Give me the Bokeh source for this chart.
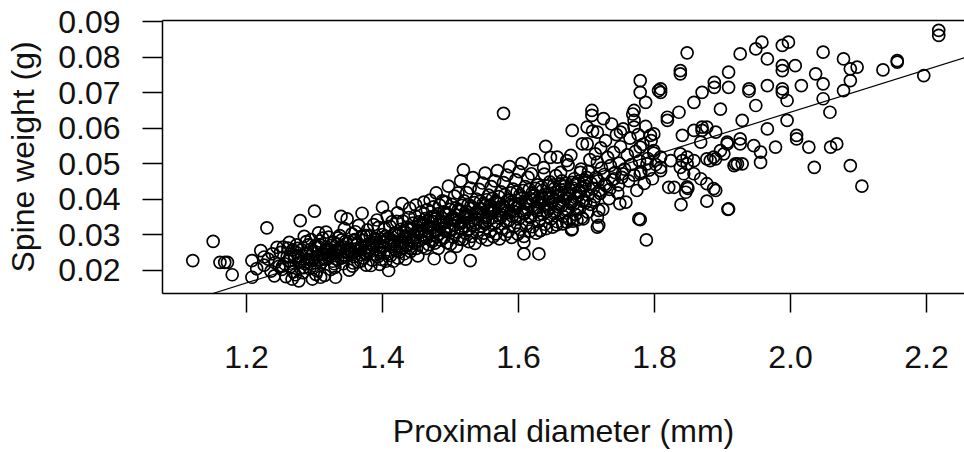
from bokeh.plotting import figure
from bokeh.models import (ColumnDataSource, Range1d, LinearAxis, FixedTicker,
                          NumeralTickFormatter, Slope)
from bokeh.embed import file_html
from bokeh.resources import INLINE

# ---------------- data ----------------
x_ticks = [1.2, 1.4, 1.6, 1.8, 2.0, 2.2]
y_ticks = [0.02, 0.03, 0.04, 0.05, 0.06, 0.07, 0.08, 0.09]

left_diameter = [1.121, 1.151, 1.161, 1.168, 1.172, 1.179, 1.208, 1.208, 1.221, 1.230,
                 1.215, 1.226, 1.232, 1.236, 1.238, 1.242, 1.245, 1.248, 1.226, 1.241]
left_weight = [0.0228, 0.0282, 0.0223, 0.0223, 0.0223, 0.0188, 0.0228, 0.0181, 0.0256, 0.0320,
               0.0205, 0.0215, 0.0232, 0.0198, 0.0247, 0.0222, 0.0265, 0.0212, 0.0238, 0.0185]

core_diameter = [
    1.250, 1.252, 1.254, 1.256, 1.258, 1.260,
    1.262, 1.263, 1.265, 1.267, 1.268, 1.270,
    1.271, 1.272, 1.274, 1.275, 1.277, 1.279,
    1.280, 1.281, 1.283, 1.285, 1.286, 1.288,
    1.289, 1.290, 1.292, 1.293, 1.295, 1.297,
    1.298, 1.300, 1.301, 1.303, 1.304, 1.306,
    1.307, 1.309, 1.310, 1.312, 1.313, 1.315,
    1.316, 1.318, 1.319, 1.321, 1.322, 1.324,
    1.325, 1.327, 1.328, 1.330, 1.331, 1.333,
    1.334, 1.336, 1.337, 1.339, 1.340, 1.342,
    1.343, 1.345, 1.346, 1.348, 1.349, 1.351,
    1.352, 1.354, 1.355, 1.357, 1.358, 1.360,
    1.361, 1.363, 1.364, 1.366, 1.367, 1.369,
    1.370, 1.372, 1.373, 1.375, 1.376, 1.378,
    1.379, 1.381, 1.382, 1.384, 1.385, 1.387,
    1.388, 1.390, 1.391, 1.393, 1.394, 1.396,
    1.397, 1.399, 1.400, 1.402, 1.403, 1.405,
    1.406, 1.408, 1.409, 1.411, 1.412, 1.414,
    1.415, 1.417, 1.418, 1.420, 1.421, 1.423,
    1.424, 1.426, 1.427, 1.429, 1.430, 1.432,
    1.433, 1.435, 1.436, 1.438, 1.439, 1.441,
    1.442, 1.444, 1.445, 1.447, 1.448, 1.450,
    1.451, 1.453, 1.454, 1.456, 1.457, 1.459,
    1.460, 1.462, 1.463, 1.465, 1.466, 1.468,
    1.469, 1.471, 1.472, 1.474, 1.475, 1.477,
    1.478, 1.480, 1.481, 1.483, 1.484, 1.486,
    1.487, 1.489, 1.490, 1.492, 1.493, 1.495,
    1.496, 1.498, 1.499, 1.501, 1.502, 1.504,
    1.505, 1.507, 1.508, 1.510, 1.511, 1.513,
    1.514, 1.516, 1.517, 1.519, 1.520, 1.522,
    1.523, 1.525, 1.526, 1.528, 1.529, 1.531,
    1.532, 1.534, 1.535, 1.537, 1.538, 1.540,
    1.541, 1.543, 1.544, 1.546, 1.547, 1.549,
    1.550, 1.552, 1.553, 1.555, 1.556, 1.558,
    1.559, 1.561, 1.562, 1.564, 1.565, 1.567,
    1.568, 1.570, 1.571, 1.573, 1.574, 1.576,
    1.577, 1.579, 1.580, 1.582, 1.583, 1.585,
    1.586, 1.588, 1.589, 1.591, 1.592, 1.594,
    1.595, 1.597, 1.598, 1.600, 1.601, 1.603,
    1.604, 1.606, 1.607, 1.609, 1.610, 1.612,
    1.613, 1.615, 1.616, 1.618, 1.619, 1.621,
    1.622, 1.624, 1.625, 1.627, 1.628, 1.630,
    1.631, 1.633, 1.634, 1.636, 1.637, 1.639,
    1.640, 1.642, 1.643, 1.645, 1.646, 1.648,
    1.649, 1.651, 1.652, 1.654, 1.655, 1.657,
    1.658, 1.660, 1.661, 1.663, 1.664, 1.666,
    1.667, 1.669, 1.670, 1.672, 1.673, 1.675,
    1.676, 1.678, 1.679, 1.681, 1.682, 1.684,
    1.685, 1.687, 1.688, 1.690, 1.691, 1.693,
    1.694, 1.696, 1.697, 1.699, 1.700, 1.702,
]
core_weight = [
    0.0251, 0.0203, 0.0266, 0.0219, 0.0183, 0.0239,
    0.0227, 0.0279, 0.0211, 0.0176, 0.0258, 0.0244,
    0.0236, 0.0188, 0.0272, 0.0262, 0.0171, 0.0207,
    0.0233, 0.0258, 0.0194, 0.0296, 0.0219, 0.0281,
    0.0224, 0.0249, 0.0231, 0.0205, 0.0287, 0.0176,
    0.0252, 0.0214, 0.0269, 0.0238, 0.0199, 0.0306,
    0.0229, 0.0271, 0.0222, 0.0291, 0.0245, 0.0186,
    0.0235, 0.0266, 0.0252, 0.0294, 0.0259, 0.0203,
    0.0248, 0.0226, 0.0279, 0.0209, 0.0257, 0.0275,
    0.0231, 0.0254, 0.0298, 0.0235, 0.0286, 0.0219,
    0.0266, 0.0238, 0.0283, 0.0253, 0.0262, 0.0201,
    0.0257, 0.0249, 0.0303, 0.0221, 0.0284, 0.0309,
    0.0261, 0.0277, 0.0224, 0.0259, 0.0245, 0.0296,
    0.0268, 0.0235, 0.0299, 0.0249, 0.0215, 0.0314,
    0.0255, 0.0252, 0.0297, 0.0276, 0.0229, 0.0329,
    0.0279, 0.0244, 0.0287, 0.0238, 0.0321, 0.0217,
    0.0281, 0.0269, 0.0301, 0.0249, 0.0319, 0.0226,
    0.0283, 0.0291, 0.0247, 0.0324, 0.0242, 0.0337,
    0.0282, 0.0272, 0.0305, 0.0256, 0.0338, 0.0235,
    0.0302, 0.0268, 0.0316, 0.0263, 0.0339, 0.0247,
    0.0297, 0.0289, 0.0322, 0.0271, 0.0349, 0.0253,
    0.0319, 0.0282, 0.0333, 0.0277, 0.0354, 0.0262,
    0.0311, 0.0305, 0.0337, 0.0285, 0.0364, 0.0266,
    0.0332, 0.0298, 0.0346, 0.0291, 0.0371, 0.0273,
    0.0325, 0.0318, 0.0351, 0.0299, 0.0379, 0.0277,
    0.0345, 0.0311, 0.0359, 0.0303, 0.0384, 0.0285,
    0.0338, 0.0332, 0.0365, 0.0311, 0.0392, 0.0278,
    0.0357, 0.0323, 0.0372, 0.0316, 0.0386, 0.0294,
    0.0348, 0.0342, 0.0375, 0.0308, 0.0418, 0.0288,
    0.0367, 0.0333, 0.0383, 0.0325, 0.0396, 0.0305,
    0.0358, 0.0352, 0.0385, 0.0317, 0.0432, 0.0296,
    0.0375, 0.0341, 0.0391, 0.0333, 0.0401, 0.0313,
    0.0365, 0.0359, 0.0395, 0.0325, 0.0446, 0.0305,
    0.0382, 0.0348, 0.0399, 0.0341, 0.0412, 0.0310,
    0.0373, 0.0363, 0.0403, 0.0331, 0.0452, 0.0303,
    0.0390, 0.0355, 0.0408, 0.0347, 0.0421, 0.0318,
    0.0381, 0.0370, 0.0413, 0.0338, 0.0468, 0.0310,
    0.0397, 0.0363, 0.0418, 0.0353, 0.0429, 0.0325,
    0.0388, 0.0377, 0.0421, 0.0345, 0.0478, 0.0316,
    0.0403, 0.0368, 0.0425, 0.0360, 0.0436, 0.0332,
    0.0395, 0.0385, 0.0428, 0.0351, 0.0472, 0.0323,
    0.0410, 0.0375, 0.0431, 0.0367, 0.0441, 0.0338,
    0.0401, 0.0391, 0.0435, 0.0358, 0.0489, 0.0330,
    0.0415, 0.0381, 0.0438, 0.0373, 0.0449, 0.0345,
    0.0405, 0.0397, 0.0441, 0.0365, 0.0467, 0.0337,
    0.0420, 0.0388, 0.0443, 0.0381, 0.0452, 0.0352,
    0.0411, 0.0403, 0.0445, 0.0371, 0.0497, 0.0343,
    0.0427, 0.0393, 0.0448, 0.0386, 0.0458, 0.0358,
    0.0418, 0.0408, 0.0451, 0.0375, 0.0476, 0.0349,
    0.0433, 0.0398, 0.0455, 0.0391, 0.0462, 0.0364,
]

spread_diameter = [
    1.253, 1.261, 1.269, 1.276, 1.284, 1.291, 1.296, 1.302, 1.308, 1.314,
    1.317, 1.323, 1.329, 1.335, 1.341, 1.344, 1.350, 1.356, 1.359, 1.365,
    1.368, 1.374, 1.377, 1.383, 1.386, 1.392, 1.395, 1.398, 1.404, 1.407,
    1.413, 1.416, 1.419, 1.422, 1.425, 1.428, 1.434, 1.437, 1.440, 1.443,
    1.446, 1.449, 1.452, 1.455, 1.458, 1.461, 1.464, 1.467, 1.470, 1.473,
    1.476, 1.479, 1.482, 1.485, 1.488, 1.491, 1.494, 1.497, 1.500, 1.503,
    1.506, 1.509, 1.512, 1.515, 1.518, 1.521, 1.524, 1.527, 1.530, 1.533,
    1.536, 1.539, 1.542, 1.545, 1.548, 1.551, 1.554, 1.557, 1.560, 1.563,
    1.566, 1.569, 1.572, 1.575, 1.578, 1.581, 1.584, 1.587, 1.590, 1.593,
    1.596, 1.599, 1.602, 1.605, 1.608, 1.611, 1.614, 1.617, 1.620, 1.623,
    1.626, 1.629, 1.632, 1.635, 1.638, 1.641, 1.644, 1.647, 1.650, 1.653,
    1.656, 1.659, 1.662, 1.665, 1.668, 1.671, 1.674, 1.677, 1.680, 1.683,
    1.686, 1.689, 1.692, 1.695, 1.698,
]
spread_weight = [
    0.0212, 0.0263, 0.0196, 0.0241, 0.0208, 0.0272, 0.0228, 0.0189, 0.0283, 0.0232,
    0.0308, 0.0244, 0.0219, 0.0292, 0.0236, 0.0318, 0.0251, 0.0212, 0.0287, 0.0327,
    0.0226, 0.0262, 0.0298, 0.0214, 0.0269, 0.0342, 0.0258, 0.0231, 0.0296, 0.0352,
    0.0268, 0.0226, 0.0301, 0.0362, 0.0252, 0.0284, 0.0232, 0.0316, 0.0375, 0.0262,
    0.0299, 0.0384, 0.0241, 0.0328, 0.0309, 0.0392, 0.0262, 0.0341, 0.0398, 0.0282,
    0.0352, 0.0418, 0.0262, 0.0331, 0.0396, 0.0293, 0.0362, 0.0437, 0.0274, 0.0343,
    0.0409, 0.0268, 0.0372, 0.0452, 0.0287, 0.0352, 0.0419, 0.0281, 0.0382, 0.0461,
    0.0276, 0.0361, 0.0428, 0.0292, 0.0388, 0.0474, 0.0286, 0.0367, 0.0436, 0.0295,
    0.0393, 0.0481, 0.0289, 0.0373, 0.0447, 0.0301, 0.0397, 0.0492, 0.0293, 0.0381,
    0.0455, 0.0302, 0.0412, 0.0501, 0.0296, 0.0388, 0.0462, 0.0311, 0.0418, 0.0512,
    0.0305, 0.0392, 0.0312, 0.0425, 0.0471, 0.0318, 0.0402, 0.0518, 0.0322, 0.0431,
    0.0328, 0.0409, 0.0476, 0.0331, 0.0437, 0.0336, 0.0415, 0.0524, 0.0339, 0.0442,
    0.0342, 0.0421, 0.0485, 0.0345, 0.0448,
]

dense_diameter = [
    1.264, 1.273, 1.278, 1.287, 1.294, 1.299, 1.305, 1.311, 1.318, 1.320,
    1.326, 1.332, 1.338, 1.344, 1.347, 1.353, 1.358, 1.362, 1.367, 1.371,
    1.375, 1.380, 1.384, 1.389, 1.392, 1.396, 1.401, 1.405, 1.410, 1.413,
    1.418, 1.422, 1.426, 1.431, 1.435, 1.439, 1.444, 1.447, 1.452, 1.455,
    1.459, 1.462, 1.466, 1.470, 1.473, 1.477, 1.480, 1.484, 1.487, 1.491,
    1.494, 1.498, 1.502, 1.505, 1.509, 1.512, 1.516, 1.519, 1.523, 1.527,
    1.530, 1.533, 1.537, 1.540, 1.544, 1.548, 1.551, 1.554, 1.558, 1.561,
    1.565, 1.568, 1.572, 1.575, 1.579, 1.582, 1.586, 1.589, 1.593, 1.596,
    1.600, 1.603, 1.607, 1.610, 1.614, 1.617, 1.621, 1.624, 1.628, 1.631,
    1.635, 1.638, 1.642, 1.645, 1.649, 1.652, 1.656, 1.659, 1.663, 1.666,
    1.670, 1.673, 1.677, 1.680, 1.684, 1.687, 1.691, 1.694, 1.698, 1.702,
    1.706, 1.710, 1.713, 1.717, 1.720, 1.727, 1.734, 1.741, 1.747, 1.753,
]
dense_weight = [
    0.0238, 0.0251, 0.0222, 0.0247, 0.0259, 0.0233, 0.0268, 0.0248, 0.0257, 0.0236,
    0.0271, 0.0253, 0.0264, 0.0244, 0.0276, 0.0258, 0.0239, 0.0272, 0.0261, 0.0284,
    0.0246, 0.0275, 0.0262, 0.0289, 0.0268, 0.0251, 0.0281, 0.0296, 0.0272, 0.0287,
    0.0261, 0.0298, 0.0282, 0.0309, 0.0271, 0.0294, 0.0318, 0.0301, 0.0284, 0.0312,
    0.0327, 0.0296, 0.0321, 0.0306, 0.0338, 0.0315, 0.0297, 0.0329, 0.0349, 0.0318,
    0.0336, 0.0312, 0.0347, 0.0327, 0.0356, 0.0338, 0.0318, 0.0349, 0.0366, 0.0336,
    0.0355, 0.0327, 0.0363, 0.0345, 0.0374, 0.0352, 0.0331, 0.0368, 0.0384, 0.0348,
    0.0372, 0.0337, 0.0389, 0.0356, 0.0379, 0.0362, 0.0341, 0.0392, 0.0366, 0.0352,
    0.0385, 0.0403, 0.0361, 0.0392, 0.0372, 0.0349, 0.0398, 0.0412, 0.0377, 0.0356,
    0.0404, 0.0386, 0.0366, 0.0417, 0.0392, 0.0361, 0.0408, 0.0379, 0.0426, 0.0397,
    0.0368, 0.0414, 0.0388, 0.0432, 0.0405, 0.0374, 0.0421, 0.0395, 0.0438, 0.0412,
    0.0386, 0.0431, 0.0408, 0.0452, 0.0417, 0.0442, 0.0428, 0.0458, 0.0441, 0.0472,
]

outlier_diameter = [1.279, 1.300, 1.339, 1.348, 1.370, 1.400, 1.429, 1.309, 1.331, 1.409,
                    1.476, 1.500, 1.529, 1.519, 1.578, 1.608, 1.630, 1.608, 1.632, 1.678,
                    1.679, 1.640, 1.657, 1.671, 1.679, 1.694, 1.701]
outlier_weight = [0.0340, 0.0367, 0.0352, 0.0345, 0.0361, 0.0378, 0.0388, 0.0181, 0.0181, 0.0200,
                  0.0233, 0.0237, 0.0228, 0.0483, 0.0642, 0.0247, 0.0247, 0.0280, 0.0312, 0.0314,
                  0.0317, 0.0549, 0.0519, 0.0509, 0.0594, 0.0556, 0.0556]

mid_diameter = [
    1.703, 1.705, 1.707, 1.709, 1.711, 1.713, 1.714, 1.716, 1.719, 1.721,
    1.722, 1.724, 1.726, 1.728, 1.729, 1.731, 1.733, 1.735, 1.737, 1.738,
    1.740, 1.742, 1.744, 1.746, 1.748, 1.750, 1.752, 1.754, 1.756, 1.758,
    1.760, 1.762, 1.764, 1.766, 1.768, 1.770, 1.772, 1.774, 1.776, 1.778,
    1.780, 1.783, 1.785, 1.787, 1.790, 1.792, 1.795, 1.797, 1.799, 1.802,
    1.708, 1.708, 1.725, 1.716, 1.716, 1.718, 1.718, 1.749, 1.777, 1.788,
    1.779, 1.701, 1.716, 1.750, 1.770, 1.770, 1.770, 1.779, 1.779, 1.787,
    1.799, 1.794, 1.799, 1.789, 1.779, 1.779,
]
mid_weight = [
    0.0478, 0.0512, 0.0445, 0.0592, 0.0398, 0.0528, 0.0462, 0.0505, 0.0425, 0.0545,
    0.0488, 0.0372, 0.0470, 0.0565, 0.0438, 0.0518, 0.0402, 0.0495, 0.0612, 0.0455,
    0.0532, 0.0475, 0.0582, 0.0418, 0.0502, 0.0548, 0.0462, 0.0598, 0.0485, 0.0392,
    0.0525, 0.0452, 0.0572, 0.0498, 0.0640, 0.0468, 0.0535, 0.0425, 0.0582, 0.0508,
    0.0478, 0.0555, 0.0445, 0.0605, 0.0515, 0.0482, 0.0565, 0.0458, 0.0530, 0.0498,
    0.0650, 0.0636, 0.0627, 0.0322, 0.0350, 0.0369, 0.0327, 0.0388, 0.0345, 0.0286,
    0.0343, 0.0603, 0.0589, 0.0589, 0.0650, 0.0622, 0.0603, 0.0734, 0.0701, 0.0673,
    0.0584, 0.0580, 0.0537, 0.0500, 0.0472, 0.0547,
]

right_diameter = [
    1.806, 1.809, 1.809, 1.809, 1.809, 1.809, 1.819, 1.819, 1.821, 1.829,
    1.824, 1.836, 1.838, 1.838, 1.838, 1.838, 1.839, 1.841, 1.841, 1.843,
    1.846, 1.848, 1.848, 1.848, 1.848, 1.849, 1.858, 1.858, 1.858, 1.858,
    1.868, 1.868, 1.870, 1.870, 1.870, 1.877, 1.877, 1.877, 1.877, 1.882,
    1.887, 1.887, 1.888, 1.888, 1.890, 1.890, 1.890, 1.897, 1.897, 1.902,
    1.907, 1.907, 1.908, 1.909, 1.909, 1.909, 1.919, 1.917, 1.922, 1.926,
    1.926, 1.926, 1.929, 1.929, 1.939, 1.939, 1.946, 1.949, 1.949, 1.956,
    1.956, 1.958, 1.966, 1.966, 1.966, 1.978, 1.988, 1.988, 1.988, 1.988,
    1.988, 1.995, 1.995, 1.997, 2.007, 2.009, 2.009, 2.016, 2.027, 2.035,
    2.037, 2.048, 2.048, 2.048, 2.058, 2.059, 2.068, 2.078, 2.078, 2.088,
    2.088, 2.088, 2.098, 2.105, 2.136, 2.157, 2.157, 2.196, 2.218, 2.218,
]
right_weight = [
    0.0706, 0.0711, 0.0701, 0.0519, 0.0481, 0.0490, 0.0631, 0.0622, 0.0434, 0.0434,
    0.0509, 0.0645, 0.0762, 0.0753, 0.0528, 0.0490, 0.0385, 0.0580, 0.0509, 0.0472,
    0.0420, 0.0812, 0.0519, 0.0500, 0.0435, 0.0431, 0.0673, 0.0594, 0.0509, 0.0472,
    0.0561, 0.0458, 0.0701, 0.0603, 0.0594, 0.0603, 0.0514, 0.0444, 0.0395, 0.0509,
    0.0519, 0.0430, 0.0729, 0.0715, 0.0589, 0.0514, 0.0425, 0.0654, 0.0537, 0.0528,
    0.0561, 0.0556, 0.0372, 0.0758, 0.0715, 0.0373, 0.0500, 0.0495, 0.0500, 0.0809,
    0.0570, 0.0556, 0.0622, 0.0500, 0.0711, 0.0704, 0.0551, 0.0823, 0.0664, 0.0533,
    0.0504, 0.0842, 0.0795, 0.0720, 0.0598, 0.0547, 0.0833, 0.0776, 0.0762, 0.0711,
    0.0701, 0.0678, 0.0622, 0.0842, 0.0776, 0.0580, 0.0570, 0.0720, 0.0547, 0.0490,
    0.0753, 0.0814, 0.0725, 0.0683, 0.0645, 0.0547, 0.0556, 0.0795, 0.0706, 0.0767,
    0.0734, 0.0495, 0.0772, 0.0437, 0.0764, 0.0786, 0.0790, 0.0748, 0.0875, 0.0861,
]

# fitted regression line
fit_intercept = -0.0555
fit_slope = 0.0600

# ---------------- figure ----------------
diameter = (left_diameter + core_diameter + spread_diameter + dense_diameter
            + outlier_diameter + mid_diameter + right_diameter)
weight = (left_weight + core_weight + spread_weight + dense_weight
          + outlier_weight + mid_weight + right_weight)
source = ColumnDataSource(data=dict(diameter=diameter, weight=weight))

FONT = "Liberation Sans"
FS = "32px"

p = figure(width=964, height=452, output_backend="svg", toolbar_location=None,
           x_range=Range1d(1.0765, 2.2559), y_range=Range1d(0.01353, 0.0903),
           x_axis_location=None, y_axis_location=None,
           min_border_left=162, min_border_right=0, min_border_top=20,
           min_border_bottom=159)
p.xgrid.grid_line_color = None
p.ygrid.grid_line_color = None
p.outline_line_color = None
p.background_fill_color = "white"
p.border_fill_color = "white"

xaxis = LinearAxis(ticker=FixedTicker(ticks=x_ticks),
                   formatter=NumeralTickFormatter(format="0.0"),
                   axis_label="Proximal diameter (mm)")
yaxis = LinearAxis(ticker=FixedTicker(ticks=y_ticks),
                   formatter=NumeralTickFormatter(format="0.00"),
                   axis_label="Spine weight (g)")
for ax in (xaxis, yaxis):
    ax.axis_line_color = "black"
    ax.axis_line_width = 1.5
    ax.major_tick_line_color = "black"
    ax.major_tick_line_width = 1.5
    ax.major_tick_in = 0
    ax.minor_tick_line_color = None
    ax.major_label_text_font = FONT
    ax.major_label_text_font_size = FS
    ax.major_label_text_color = "#111111"
    ax.axis_label_text_font = FONT
    ax.axis_label_text_font_size = FS
    ax.axis_label_text_font_style = "normal"
    ax.axis_label_text_color = "#111111"
xaxis.major_tick_out = 19
xaxis.major_label_standoff = 33
xaxis.axis_label_standoff = 42
yaxis.major_tick_out = 20
yaxis.major_label_standoff = 22
yaxis.major_label_orientation = "horizontal"
yaxis.axis_label_standoff = 14
p.add_layout(xaxis, "below")
p.add_layout(yaxis, "left")

top = LinearAxis(ticker=FixedTicker(ticks=[]), major_tick_out=0, major_tick_in=0,
                 minor_tick_line_color=None, major_label_text_font_size="0px",
                 axis_line_color="black", axis_line_width=1.5)
p.add_layout(top, "above")

p.scatter("diameter", "weight", source=source, marker="circle", size=12,
          fill_color=None, line_color="black", line_width=1.7)

p.add_layout(Slope(gradient=fit_slope, y_intercept=fit_intercept,
                   line_color="black", line_width=1.2))

open("out.html", "w").write(file_html(p, INLINE))
